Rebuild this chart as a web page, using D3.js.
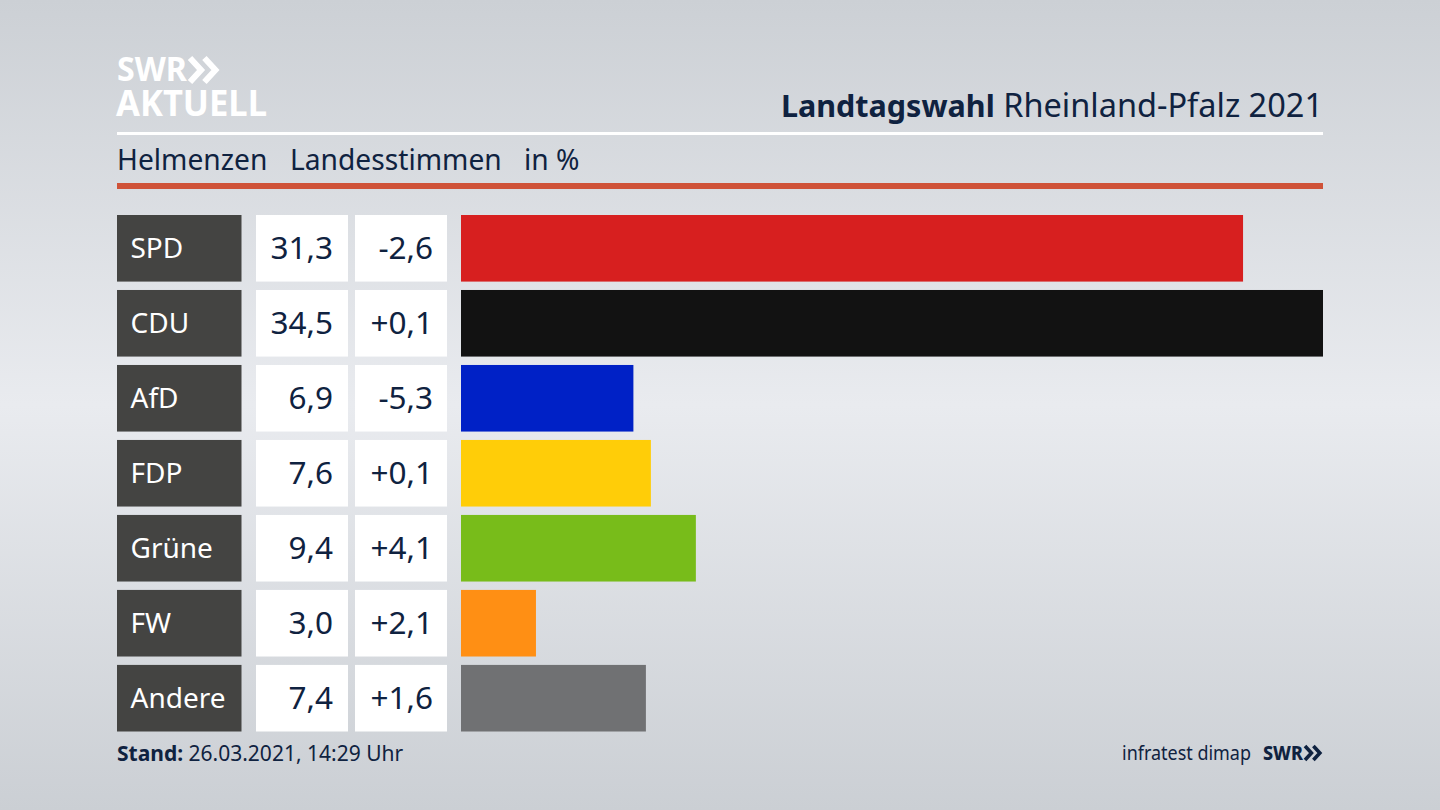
<!DOCTYPE html>
<html lang="de">
<head>
<meta charset="utf-8">
<title>Landtagswahl Rheinland-Pfalz 2021</title>
<script src="https://cdnjs.cloudflare.com/ajax/libs/d3/7.8.5/d3.min.js"></script>
<style>
  html, body { margin: 0; padding: 0; background: #d5d8de; overflow: hidden; }
  svg { display: block; }
  text { font-family: "Noto Sans", "Open Sans", sans-serif; }
</style>
</head>
<body>
<script>
var parties = ["SPD", "CDU", "AfD", "FDP", "Grüne", "FW", "Andere"];
var shares = [31.3, 34.5, 6.9, 7.6, 9.4, 3.0, 7.4];
var changes = [-2.6, 0.1, -5.3, 0.1, 4.1, 2.1, 1.6];
var barColors = ["#d71f1f", "#121212", "#0021c6", "#ffcd08", "#78bc1a", "#ff8f14", "#707173"];

var width = 1440, height = 810;
var ink = "#0f2240";

var svg = d3.select("body").append("svg")
  .attr("width", width)
  .attr("height", height);

// background, lighter band through the middle
var defs = svg.append("defs");
var bg = defs.append("linearGradient").attr("id", "bg")
  .attr("x1", 0).attr("y1", 0).attr("x2", 0).attr("y2", 1);
bg.append("stop").attr("offset", "0%").attr("stop-color", "#ccd0d5");
bg.append("stop").attr("offset", "50%").attr("stop-color", "#e9ebef");
bg.append("stop").attr("offset", "100%").attr("stop-color", "#cbcfd4");
svg.append("rect").attr("width", width).attr("height", height).attr("fill", "url(#bg)");

var y = d3.scaleBand().domain(parties).range([215, 731.5]).paddingInner(0.112);
var x = d3.scaleLinear().domain([0, 34.5]).range([461, 1323]);

function fmt(v) { return v.toFixed(1).replace(".", ","); }
function fmtChange(v) { return (v > 0 ? "+" : "") + fmt(v); }

// header
function logoChevrons(g, px, py, h, sw) {
  [0, 1].forEach(function(i) {
    var ox = px + i * h * 0.6;
    g.append("path")
      .attr("d", d3.line()([[ox, py], [ox + h * 0.46, py + h / 2], [ox, py + h]]))
      .attr("fill", "none")
      .attr("stroke", g.attr("data-c"))
      .attr("stroke-width", sw);
  });
}

var logo = svg.append("g").attr("data-c", "#fff");
logo.append("text").attr("x", 117).attr("y", 81).attr("font-size", 34)
  .attr("font-weight", 700).attr("fill", "#fff").attr("textLength", 70).attr("lengthAdjust", "spacingAndGlyphs").text("SWR");
logoChevrons(logo, 190, 58, 24, 6);
logo.append("text").attr("x", 116).attr("y", 115.5).attr("font-size", 35)
  .attr("font-weight", 700).attr("fill", "#fff").attr("textLength", 151).attr("lengthAdjust", "spacingAndGlyphs").text("AKTUELL");

var title = svg.append("text").attr("x", 1323).attr("y", 117)
  .attr("text-anchor", "end").attr("fill", ink);
title.append("tspan").attr("font-weight", 700).attr("font-size", 30.5).text("Landtagswahl");
title.append("tspan").attr("font-size", 32.5).text(" Rheinland-Pfalz 2021");

svg.append("rect").attr("x", 117).attr("y", 132).attr("width", 1206).attr("height", 3).attr("fill", "#fff");

var sub = [["Helmenzen", 117], ["Landesstimmen", 290], ["in %", 524]];
svg.selectAll(".sub").data(sub).enter().append("text")
  .attr("class", "sub")
  .attr("x", function(d) { return d[1]; })
  .attr("y", 170)
  .attr("font-size", 28.2)
  .attr("fill", ink)
  .text(function(d) { return d[0]; });

svg.append("rect").attr("x", 117).attr("y", 183).attr("width", 1206).attr("height", 6).attr("fill", "#cf5238");

// rows
var rows = svg.selectAll(".row").data(parties).enter().append("g")
  .attr("class", "row")
  .attr("transform", function(d) { return "translate(0," + y(d) + ")"; });

var h = y.bandwidth();

rows.append("rect").attr("x", 117).attr("width", 124.5).attr("height", h).attr("fill", "#444442");
rows.append("rect").attr("x", 256).attr("width", 92).attr("height", h).attr("fill", "#fff");
rows.append("rect").attr("x", 355).attr("width", 92).attr("height", h).attr("fill", "#fff");

rows.append("rect")
  .attr("x", x(0))
  .attr("width", function(d, i) { return x(shares[i]) - x(0); })
  .attr("height", h)
  .attr("fill", function(d, i) { return barColors[i]; });

rows.append("text").attr("x", 130.5).attr("y", h / 2 + 10).attr("font-size", 28)
  .attr("fill", "#fff").text(function(d) { return d; });
rows.append("text").attr("x", 333).attr("y", h / 2 + 11).attr("font-size", 31.5)
  .attr("text-anchor", "end").attr("fill", ink).text(function(d, i) { return fmt(shares[i]); });
rows.append("text").attr("x", 433).attr("y", h / 2 + 11).attr("font-size", 31.5)
  .attr("text-anchor", "end").attr("fill", ink).text(function(d, i) { return fmtChange(changes[i]); });

// footer
var stand = svg.append("text").attr("x", 117).attr("y", 761).attr("font-size", 21).attr("fill", ink);
stand.append("tspan").attr("font-weight", 700).text("Stand:");
stand.append("tspan").text(" 26.03.2021, 14:29 Uhr");

svg.append("text").attr("x", 1122).attr("y", 760)
  .attr("font-size", 19.5).attr("fill", ink)
  .attr("textLength", 129).attr("lengthAdjust", "spacingAndGlyphs").text("infratest dimap");

var foot = svg.append("g").attr("data-c", ink);
foot.append("text").attr("x", 1263).attr("y", 760).attr("font-size", 20)
  .attr("font-weight", 800).attr("fill", ink).attr("textLength", 40).attr("lengthAdjust", "spacingAndGlyphs").text("SWR");
logoChevrons(foot, 1305, 746, 14, 3.6);
</script>
</body>
</html>
